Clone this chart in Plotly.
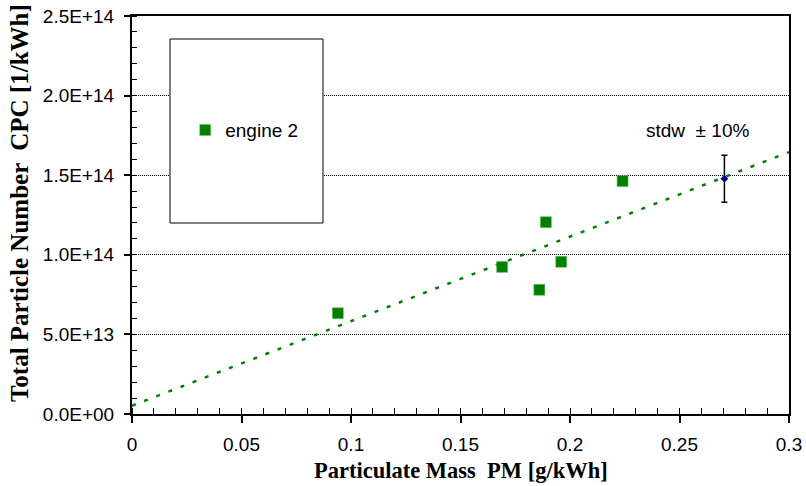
import plotly.graph_objects as go

# ---- data ----
pm_engine2 = [0.094, 0.169, 0.186, 0.189, 0.196, 0.224]
pn_engine2 = [6.33e13, 9.24e13, 7.80e13, 1.205e14, 9.56e13, 1.463e14]

trend_x = [0.0, 0.3]
trend_y = [5.2e12, 1.645e14]

stdw_x = [0.2705]
stdw_y = [1.478e14]
stdw_pct = 10

x_tickvals = [0, 0.05, 0.1, 0.15, 0.2, 0.25, 0.3]
x_ticktext = ["0", "0.05", "0.1", "0.15", "0.2", "0.25", "0.3"]
y_tickvals = [0, 5e13, 1e14, 1.5e14, 2e14, 2.5e14]
y_ticktext = ["0.0E+00", "5.0E+13", "1.0E+14", "1.5E+14", "2.0E+14", "2.5E+14"]

GREEN = "#008000"
SANS = "Liberation Sans, Arial, sans-serif"
SERIF = "Liberation Serif, Times New Roman, serif"

fig = go.Figure()

fig.add_trace(go.Scatter(
    x=trend_x, y=trend_y, mode="lines",
    line=dict(color=GREEN, width=2.5, dash="4px,9px"),
    showlegend=False, hoverinfo="skip"))

fig.add_trace(go.Scatter(
    x=pm_engine2, y=pn_engine2, mode="markers", name="engine 2",
    marker=dict(symbol="square", size=11, color=GREEN,
                line=dict(color="#6fbf6f", width=0.5))))

fig.add_trace(go.Scatter(
    x=stdw_x, y=stdw_y, mode="markers", showlegend=False,
    marker=dict(symbol="diamond", size=6, color="#000080"),
    error_y=dict(type="percent", value=stdw_pct, color="black",
                 thickness=1.5, width=3)))

fig.update_layout(
    width=806, height=486, autosize=False,
    margin=dict(l=132, r=17, t=16, b=72, autoexpand=False),
    paper_bgcolor="white", plot_bgcolor="white",
    font=dict(family=SANS, size=19, color="black"),
    showlegend=True,
    legend=dict(x=0.081, y=0.713, xanchor="left", yanchor="middle",
                bgcolor="rgba(0,0,0,0)", borderwidth=0,
                font=dict(family=SANS, size=19, color="black"),
                itemwidth=30),
    xaxis=dict(range=[0, 0.3], tickmode="array", tickvals=x_tickvals,
               ticktext=x_ticktext, showgrid=False, zeroline=False,
               automargin=False,
               showline=True, linecolor="black", linewidth=1.5, mirror=True,
               ticks="outside", ticklen=7, tickwidth=1.5, tickcolor="black",
               ticklabelstandoff=5,
               tickfont=dict(family=SANS, size=19),
               minor=dict(dtick=0.01, tick0=0, ticks="inside", ticklen=6,
                          tickwidth=1, tickcolor="black", showgrid=False)),
    yaxis=dict(range=[0, 2.5e14], tickmode="array", tickvals=y_tickvals,
               ticktext=y_ticktext, showgrid=True, gridcolor="black",
               gridwidth=1, griddash="1px,1px", zeroline=False,
               automargin=False,
               showline=True, linecolor="black", linewidth=2, mirror=True,
               ticks="outside", ticklen=6, tickwidth=1.5, tickcolor="black",
               ticklabelstandoff=6,
               tickfont=dict(family=SANS, size=19),
               minor=dict(dtick=1e13, tick0=0, ticks="inside", ticklen=5,
                          tickwidth=1, tickcolor="black", showgrid=False)),
    shapes=[dict(type="rect", xref="paper", yref="paper",
                 x0=0.0578, x1=0.2907, y0=0.4799, y1=0.9422,
                 fillcolor="white", line=dict(color="black", width=1),
                 layer="above")],
    annotations=[
        dict(text="<b>Particulate Mass  PM [g/kWh]</b>", xref="paper", yref="paper",
             x=0.5, y=-0.143, xanchor="center", yanchor="middle", showarrow=False,
             font=dict(family=SERIF, size=22.5, color="black")),
        dict(text="<b>Total Particle Number  CPC [1/kWh]</b>", xref="paper", yref="paper",
             x=-0.172, y=0.53, xanchor="center", yanchor="middle", showarrow=False,
             textangle=-90, font=dict(family=SERIF, size=25, color="black")),
        dict(text="stdw  \u00b1 10%", xref="x", yref="y", x=0.258, y=1.778e14,
             xanchor="center", yanchor="middle", showarrow=False,
             font=dict(family=SANS, size=19, color="black")),
    ],
)

fig.write_html("out.html")
